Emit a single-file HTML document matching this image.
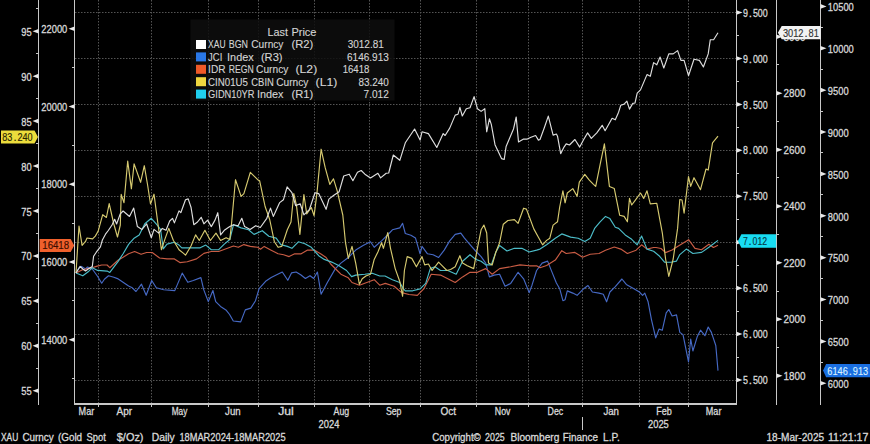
<!DOCTYPE html>
<html><head><meta charset="utf-8"><style>html,body{margin:0;padding:0;background:#000;width:870px;height:444px;overflow:hidden}</style></head>
<body><svg width="870" height="444" viewBox="0 0 870 444" style="display:block;font-family:'Liberation Sans', sans-serif">
<rect width="870" height="444" fill="#000"/>
<line x1="98.5" y1="0" x2="98.5" y2="403.5" stroke="#545454" stroke-width="1" stroke-dasharray="1.5 1.5"/><line x1="151.5" y1="0" x2="151.5" y2="403.5" stroke="#545454" stroke-width="1" stroke-dasharray="1.5 1.5"/><line x1="208.5" y1="0" x2="208.5" y2="403.5" stroke="#545454" stroke-width="1" stroke-dasharray="1.5 1.5"/><line x1="258.5" y1="0" x2="258.5" y2="403.5" stroke="#545454" stroke-width="1" stroke-dasharray="1.5 1.5"/><line x1="314.5" y1="0" x2="314.5" y2="403.5" stroke="#545454" stroke-width="1" stroke-dasharray="1.5 1.5"/><line x1="369.5" y1="0" x2="369.5" y2="403.5" stroke="#545454" stroke-width="1" stroke-dasharray="1.5 1.5"/><line x1="420.5" y1="0" x2="420.5" y2="403.5" stroke="#545454" stroke-width="1" stroke-dasharray="1.5 1.5"/><line x1="476.5" y1="0" x2="476.5" y2="403.5" stroke="#545454" stroke-width="1" stroke-dasharray="1.5 1.5"/><line x1="528.5" y1="0" x2="528.5" y2="403.5" stroke="#545454" stroke-width="1" stroke-dasharray="1.5 1.5"/><line x1="582.5" y1="0" x2="582.5" y2="403.5" stroke="#545454" stroke-width="1" stroke-dasharray="1.5 1.5"/><line x1="639.5" y1="0" x2="639.5" y2="403.5" stroke="#545454" stroke-width="1" stroke-dasharray="1.5 1.5"/><line x1="688.5" y1="0" x2="688.5" y2="403.5" stroke="#545454" stroke-width="1" stroke-dasharray="1.5 1.5"/><line x1="75" y1="380.5" x2="736" y2="380.5" stroke="#545454" stroke-width="1" stroke-dasharray="1.5 1.5"/><line x1="75" y1="334.5" x2="736" y2="334.5" stroke="#545454" stroke-width="1" stroke-dasharray="1.5 1.5"/><line x1="75" y1="288.5" x2="736" y2="288.5" stroke="#545454" stroke-width="1" stroke-dasharray="1.5 1.5"/><line x1="75" y1="242.5" x2="736" y2="242.5" stroke="#545454" stroke-width="1" stroke-dasharray="1.5 1.5"/><line x1="75" y1="196.5" x2="736" y2="196.5" stroke="#545454" stroke-width="1" stroke-dasharray="1.5 1.5"/><line x1="75" y1="150.5" x2="736" y2="150.5" stroke="#545454" stroke-width="1" stroke-dasharray="1.5 1.5"/><line x1="75" y1="104.5" x2="736" y2="104.5" stroke="#545454" stroke-width="1" stroke-dasharray="1.5 1.5"/><line x1="75" y1="58.5" x2="736" y2="58.5" stroke="#545454" stroke-width="1" stroke-dasharray="1.5 1.5"/><line x1="75" y1="12.5" x2="736" y2="12.5" stroke="#545454" stroke-width="1" stroke-dasharray="1.5 1.5"/>
<g shape-rendering="crispEdges"><line x1="38.5" y1="0" x2="38.5" y2="405" stroke="#c8c8c8" stroke-width="1"/><line x1="74.5" y1="0" x2="74.5" y2="405" stroke="#c8c8c8" stroke-width="1"/><line x1="736.5" y1="0" x2="736.5" y2="405" stroke="#c8c8c8" stroke-width="1"/><line x1="776.5" y1="0" x2="776.5" y2="405" stroke="#c8c8c8" stroke-width="1"/><line x1="820.5" y1="0" x2="820.5" y2="405" stroke="#c8c8c8" stroke-width="1"/><rect x="74" y="403" width="663" height="2" fill="#c8c8c8"/><line x1="98.5" y1="405" x2="98.5" y2="407" stroke="#c8c8c8" stroke-width="1"/><line x1="151.5" y1="405" x2="151.5" y2="407" stroke="#c8c8c8" stroke-width="1"/><line x1="208.5" y1="405" x2="208.5" y2="407" stroke="#c8c8c8" stroke-width="1"/><line x1="258.5" y1="405" x2="258.5" y2="407" stroke="#c8c8c8" stroke-width="1"/><line x1="314.5" y1="405" x2="314.5" y2="407" stroke="#c8c8c8" stroke-width="1"/><line x1="369.5" y1="405" x2="369.5" y2="407" stroke="#c8c8c8" stroke-width="1"/><line x1="420.5" y1="405" x2="420.5" y2="407" stroke="#c8c8c8" stroke-width="1"/><line x1="476.5" y1="405" x2="476.5" y2="407" stroke="#c8c8c8" stroke-width="1"/><line x1="528.5" y1="405" x2="528.5" y2="407" stroke="#c8c8c8" stroke-width="1"/><line x1="582.5" y1="405" x2="582.5" y2="407" stroke="#c8c8c8" stroke-width="1"/><line x1="639.5" y1="405" x2="639.5" y2="407" stroke="#c8c8c8" stroke-width="1"/><line x1="688.5" y1="405" x2="688.5" y2="407" stroke="#c8c8c8" stroke-width="1"/><line x1="582.5" y1="417" x2="582.5" y2="430" stroke="#c8c8c8" stroke-width="1"/><line x1="36.0" y1="368.5" x2="38.5" y2="368.5" stroke="#c8c8c8" stroke-width="1"/><line x1="36.0" y1="323.5" x2="38.5" y2="323.5" stroke="#c8c8c8" stroke-width="1"/><line x1="36.0" y1="278.5" x2="38.5" y2="278.5" stroke="#c8c8c8" stroke-width="1"/><line x1="36.0" y1="233.5" x2="38.5" y2="233.5" stroke="#c8c8c8" stroke-width="1"/><line x1="36.0" y1="188.5" x2="38.5" y2="188.5" stroke="#c8c8c8" stroke-width="1"/><line x1="36.0" y1="143.5" x2="38.5" y2="143.5" stroke="#c8c8c8" stroke-width="1"/><line x1="36.0" y1="98.5" x2="38.5" y2="98.5" stroke="#c8c8c8" stroke-width="1"/><line x1="36.0" y1="53.5" x2="38.5" y2="53.5" stroke="#c8c8c8" stroke-width="1"/><line x1="36.0" y1="8.5" x2="38.5" y2="8.5" stroke="#c8c8c8" stroke-width="1"/><line x1="72.0" y1="378.5" x2="74.5" y2="378.5" stroke="#c8c8c8" stroke-width="1"/><line x1="72.0" y1="300.5" x2="74.5" y2="300.5" stroke="#c8c8c8" stroke-width="1"/><line x1="72.0" y1="223.5" x2="74.5" y2="223.5" stroke="#c8c8c8" stroke-width="1"/><line x1="72.0" y1="145.5" x2="74.5" y2="145.5" stroke="#c8c8c8" stroke-width="1"/><line x1="72.0" y1="67.5" x2="74.5" y2="67.5" stroke="#c8c8c8" stroke-width="1"/><line x1="72.0" y1="-9.5" x2="74.5" y2="-9.5" stroke="#c8c8c8" stroke-width="1"/><line x1="736.5" y1="357.5" x2="739.0" y2="357.5" stroke="#c8c8c8" stroke-width="1"/><line x1="736.5" y1="311.5" x2="739.0" y2="311.5" stroke="#c8c8c8" stroke-width="1"/><line x1="736.5" y1="265.5" x2="739.0" y2="265.5" stroke="#c8c8c8" stroke-width="1"/><line x1="736.5" y1="219.5" x2="739.0" y2="219.5" stroke="#c8c8c8" stroke-width="1"/><line x1="736.5" y1="173.5" x2="739.0" y2="173.5" stroke="#c8c8c8" stroke-width="1"/><line x1="736.5" y1="127.5" x2="739.0" y2="127.5" stroke="#c8c8c8" stroke-width="1"/><line x1="736.5" y1="81.5" x2="739.0" y2="81.5" stroke="#c8c8c8" stroke-width="1"/><line x1="736.5" y1="35.5" x2="739.0" y2="35.5" stroke="#c8c8c8" stroke-width="1"/><line x1="776.5" y1="347.5" x2="779.0" y2="347.5" stroke="#c8c8c8" stroke-width="1"/><line x1="776.5" y1="291.5" x2="779.0" y2="291.5" stroke="#c8c8c8" stroke-width="1"/><line x1="776.5" y1="234.5" x2="779.0" y2="234.5" stroke="#c8c8c8" stroke-width="1"/><line x1="776.5" y1="177.5" x2="779.0" y2="177.5" stroke="#c8c8c8" stroke-width="1"/><line x1="776.5" y1="121.5" x2="779.0" y2="121.5" stroke="#c8c8c8" stroke-width="1"/><line x1="776.5" y1="64.5" x2="779.0" y2="64.5" stroke="#c8c8c8" stroke-width="1"/><line x1="820.5" y1="362.5" x2="823.0" y2="362.5" stroke="#c8c8c8" stroke-width="1"/><line x1="820.5" y1="320.5" x2="823.0" y2="320.5" stroke="#c8c8c8" stroke-width="1"/><line x1="820.5" y1="278.5" x2="823.0" y2="278.5" stroke="#c8c8c8" stroke-width="1"/><line x1="820.5" y1="236.5" x2="823.0" y2="236.5" stroke="#c8c8c8" stroke-width="1"/><line x1="820.5" y1="194.5" x2="823.0" y2="194.5" stroke="#c8c8c8" stroke-width="1"/><line x1="820.5" y1="152.5" x2="823.0" y2="152.5" stroke="#c8c8c8" stroke-width="1"/><line x1="820.5" y1="111.5" x2="823.0" y2="111.5" stroke="#c8c8c8" stroke-width="1"/><line x1="820.5" y1="69.5" x2="823.0" y2="69.5" stroke="#c8c8c8" stroke-width="1"/><line x1="820.5" y1="27.5" x2="823.0" y2="27.5" stroke="#c8c8c8" stroke-width="1"/></g>
<polygon points="38.5,388.50 38.5,393.10 32.5,390.80" fill="#e8e8e8"/><polygon points="38.5,343.55 38.5,348.15 32.5,345.85" fill="#e8e8e8"/><polygon points="38.5,298.60 38.5,303.20 32.5,300.90" fill="#e8e8e8"/><polygon points="38.5,253.65 38.5,258.25 32.5,255.95" fill="#e8e8e8"/><polygon points="38.5,208.70 38.5,213.30 32.5,211.00" fill="#e8e8e8"/><polygon points="38.5,163.75 38.5,168.35 32.5,166.05" fill="#e8e8e8"/><polygon points="38.5,118.80 38.5,123.40 32.5,121.10" fill="#e8e8e8"/><polygon points="38.5,73.85 38.5,78.45 32.5,76.15" fill="#e8e8e8"/><polygon points="38.5,28.90 38.5,33.50 32.5,31.20" fill="#e8e8e8"/><polygon points="74.5,337.45 74.5,342.05 68.5,339.75" fill="#e8e8e8"/><polygon points="74.5,259.70 74.5,264.30 68.5,262.00" fill="#e8e8e8"/><polygon points="74.5,181.95 74.5,186.55 68.5,184.25" fill="#e8e8e8"/><polygon points="74.5,104.20 74.5,108.80 68.5,106.50" fill="#e8e8e8"/><polygon points="74.5,26.45 74.5,31.05 68.5,28.75" fill="#e8e8e8"/><polygon points="736.5,377.70 736.5,382.30 742.5,380.00" fill="#e8e8e8"/><polygon points="736.5,331.77 736.5,336.37 742.5,334.07" fill="#e8e8e8"/><polygon points="736.5,285.84 736.5,290.44 742.5,288.14" fill="#e8e8e8"/><polygon points="736.5,239.91 736.5,244.51 742.5,242.21" fill="#e8e8e8"/><polygon points="736.5,193.98 736.5,198.58 742.5,196.28" fill="#e8e8e8"/><polygon points="736.5,148.05 736.5,152.65 742.5,150.35" fill="#e8e8e8"/><polygon points="736.5,102.12 736.5,106.72 742.5,104.42" fill="#e8e8e8"/><polygon points="736.5,56.19 736.5,60.79 742.5,58.49" fill="#e8e8e8"/><polygon points="736.5,10.26 736.5,14.86 742.5,12.56" fill="#e8e8e8"/><polygon points="776.5,373.50 776.5,378.10 782.5,375.80" fill="#e8e8e8"/><polygon points="776.5,316.98 776.5,321.58 782.5,319.28" fill="#e8e8e8"/><polygon points="776.5,260.46 776.5,265.06 782.5,262.76" fill="#e8e8e8"/><polygon points="776.5,203.94 776.5,208.54 782.5,206.24" fill="#e8e8e8"/><polygon points="776.5,147.42 776.5,152.02 782.5,149.72" fill="#e8e8e8"/><polygon points="776.5,90.90 776.5,95.50 782.5,93.20" fill="#e8e8e8"/><polygon points="776.5,34.38 776.5,38.98 782.5,36.68" fill="#e8e8e8"/><polygon points="820.5,381.00 820.5,385.60 826.5,383.30" fill="#e8e8e8"/><polygon points="820.5,339.12 820.5,343.72 826.5,341.42" fill="#e8e8e8"/><polygon points="820.5,297.24 820.5,301.84 826.5,299.54" fill="#e8e8e8"/><polygon points="820.5,255.36 820.5,259.96 826.5,257.66" fill="#e8e8e8"/><polygon points="820.5,213.48 820.5,218.08 826.5,215.78" fill="#e8e8e8"/><polygon points="820.5,171.60 820.5,176.20 826.5,173.90" fill="#e8e8e8"/><polygon points="820.5,129.72 820.5,134.32 826.5,132.02" fill="#e8e8e8"/><polygon points="820.5,87.84 820.5,92.44 826.5,90.14" fill="#e8e8e8"/><polygon points="820.5,45.96 820.5,50.56 826.5,48.26" fill="#e8e8e8"/><polygon points="820.5,4.08 820.5,8.68 826.5,6.38" fill="#e8e8e8"/>
<text x="21.20" y="395.3" font-size="11.6" fill="#d9d9d9" stroke="#d9d9d9" stroke-width="0.3" textLength="10.40" lengthAdjust="spacingAndGlyphs">55</text><text x="21.20" y="350.35" font-size="11.6" fill="#d9d9d9" stroke="#d9d9d9" stroke-width="0.3" textLength="10.40" lengthAdjust="spacingAndGlyphs">60</text><text x="21.20" y="305.4" font-size="11.6" fill="#d9d9d9" stroke="#d9d9d9" stroke-width="0.3" textLength="10.40" lengthAdjust="spacingAndGlyphs">65</text><text x="21.20" y="260.45" font-size="11.6" fill="#d9d9d9" stroke="#d9d9d9" stroke-width="0.3" textLength="10.40" lengthAdjust="spacingAndGlyphs">70</text><text x="21.20" y="215.5" font-size="11.6" fill="#d9d9d9" stroke="#d9d9d9" stroke-width="0.3" textLength="10.40" lengthAdjust="spacingAndGlyphs">75</text><text x="21.20" y="170.55" font-size="11.6" fill="#d9d9d9" stroke="#d9d9d9" stroke-width="0.3" textLength="10.40" lengthAdjust="spacingAndGlyphs">80</text><text x="21.20" y="125.6" font-size="11.6" fill="#d9d9d9" stroke="#d9d9d9" stroke-width="0.3" textLength="10.40" lengthAdjust="spacingAndGlyphs">85</text><text x="21.20" y="80.65" font-size="11.6" fill="#d9d9d9" stroke="#d9d9d9" stroke-width="0.3" textLength="10.40" lengthAdjust="spacingAndGlyphs">90</text><text x="21.20" y="35.7" font-size="11.6" fill="#d9d9d9" stroke="#d9d9d9" stroke-width="0.3" textLength="10.40" lengthAdjust="spacingAndGlyphs">95</text><text x="41.30" y="343.85" font-size="11.6" fill="#d9d9d9" stroke="#d9d9d9" stroke-width="0.3" textLength="26.00" lengthAdjust="spacingAndGlyphs">14000</text><text x="41.30" y="266.1" font-size="11.6" fill="#d9d9d9" stroke="#d9d9d9" stroke-width="0.3" textLength="26.00" lengthAdjust="spacingAndGlyphs">16000</text><text x="41.30" y="188.35" font-size="11.6" fill="#d9d9d9" stroke="#d9d9d9" stroke-width="0.3" textLength="26.00" lengthAdjust="spacingAndGlyphs">18000</text><text x="41.30" y="110.6" font-size="11.6" fill="#d9d9d9" stroke="#d9d9d9" stroke-width="0.3" textLength="26.00" lengthAdjust="spacingAndGlyphs">20000</text><text x="41.30" y="32.85" font-size="11.6" fill="#d9d9d9" stroke="#d9d9d9" stroke-width="0.3" textLength="26.00" lengthAdjust="spacingAndGlyphs">22000</text><text x="743.00" y="384.1" font-size="11.6" fill="#d9d9d9" stroke="#d9d9d9" stroke-width="0.3" textLength="4.95" lengthAdjust="spacingAndGlyphs">5</text><text x="750.42" y="384.1" font-size="11.6" text-anchor="middle" fill="#d9d9d9" stroke="#d9d9d9" stroke-width="0.3">.</text><text x="752.90" y="384.1" font-size="11.6" fill="#d9d9d9" stroke="#d9d9d9" stroke-width="0.3" textLength="14.85" lengthAdjust="spacingAndGlyphs">500</text><text x="743.00" y="338.17" font-size="11.6" fill="#d9d9d9" stroke="#d9d9d9" stroke-width="0.3" textLength="4.95" lengthAdjust="spacingAndGlyphs">6</text><text x="750.42" y="338.17" font-size="11.6" text-anchor="middle" fill="#d9d9d9" stroke="#d9d9d9" stroke-width="0.3">.</text><text x="752.90" y="338.17" font-size="11.6" fill="#d9d9d9" stroke="#d9d9d9" stroke-width="0.3" textLength="14.85" lengthAdjust="spacingAndGlyphs">000</text><text x="743.00" y="292.24" font-size="11.6" fill="#d9d9d9" stroke="#d9d9d9" stroke-width="0.3" textLength="4.95" lengthAdjust="spacingAndGlyphs">6</text><text x="750.42" y="292.24" font-size="11.6" text-anchor="middle" fill="#d9d9d9" stroke="#d9d9d9" stroke-width="0.3">.</text><text x="752.90" y="292.24" font-size="11.6" fill="#d9d9d9" stroke="#d9d9d9" stroke-width="0.3" textLength="14.85" lengthAdjust="spacingAndGlyphs">500</text><text x="743.00" y="200.38" font-size="11.6" fill="#d9d9d9" stroke="#d9d9d9" stroke-width="0.3" textLength="4.95" lengthAdjust="spacingAndGlyphs">7</text><text x="750.42" y="200.38" font-size="11.6" text-anchor="middle" fill="#d9d9d9" stroke="#d9d9d9" stroke-width="0.3">.</text><text x="752.90" y="200.38" font-size="11.6" fill="#d9d9d9" stroke="#d9d9d9" stroke-width="0.3" textLength="14.85" lengthAdjust="spacingAndGlyphs">500</text><text x="743.00" y="154.45" font-size="11.6" fill="#d9d9d9" stroke="#d9d9d9" stroke-width="0.3" textLength="4.95" lengthAdjust="spacingAndGlyphs">8</text><text x="750.42" y="154.45" font-size="11.6" text-anchor="middle" fill="#d9d9d9" stroke="#d9d9d9" stroke-width="0.3">.</text><text x="752.90" y="154.45" font-size="11.6" fill="#d9d9d9" stroke="#d9d9d9" stroke-width="0.3" textLength="14.85" lengthAdjust="spacingAndGlyphs">000</text><text x="743.00" y="108.52" font-size="11.6" fill="#d9d9d9" stroke="#d9d9d9" stroke-width="0.3" textLength="4.95" lengthAdjust="spacingAndGlyphs">8</text><text x="750.42" y="108.52" font-size="11.6" text-anchor="middle" fill="#d9d9d9" stroke="#d9d9d9" stroke-width="0.3">.</text><text x="752.90" y="108.52" font-size="11.6" fill="#d9d9d9" stroke="#d9d9d9" stroke-width="0.3" textLength="14.85" lengthAdjust="spacingAndGlyphs">500</text><text x="743.00" y="62.59" font-size="11.6" fill="#d9d9d9" stroke="#d9d9d9" stroke-width="0.3" textLength="4.95" lengthAdjust="spacingAndGlyphs">9</text><text x="750.42" y="62.59" font-size="11.6" text-anchor="middle" fill="#d9d9d9" stroke="#d9d9d9" stroke-width="0.3">.</text><text x="752.90" y="62.59" font-size="11.6" fill="#d9d9d9" stroke="#d9d9d9" stroke-width="0.3" textLength="14.85" lengthAdjust="spacingAndGlyphs">000</text><text x="743.00" y="16.66" font-size="11.6" fill="#d9d9d9" stroke="#d9d9d9" stroke-width="0.3" textLength="4.95" lengthAdjust="spacingAndGlyphs">9</text><text x="750.42" y="16.66" font-size="11.6" text-anchor="middle" fill="#d9d9d9" stroke="#d9d9d9" stroke-width="0.3">.</text><text x="752.90" y="16.66" font-size="11.6" fill="#d9d9d9" stroke="#d9d9d9" stroke-width="0.3" textLength="14.85" lengthAdjust="spacingAndGlyphs">500</text><text x="783.50" y="379.9" font-size="11.6" fill="#d9d9d9" stroke="#d9d9d9" stroke-width="0.3" textLength="22.00" lengthAdjust="spacingAndGlyphs">1800</text><text x="783.50" y="323.38" font-size="11.6" fill="#d9d9d9" stroke="#d9d9d9" stroke-width="0.3" textLength="22.00" lengthAdjust="spacingAndGlyphs">2000</text><text x="783.50" y="266.86" font-size="11.6" fill="#d9d9d9" stroke="#d9d9d9" stroke-width="0.3" textLength="22.00" lengthAdjust="spacingAndGlyphs">2200</text><text x="783.50" y="210.34" font-size="11.6" fill="#d9d9d9" stroke="#d9d9d9" stroke-width="0.3" textLength="22.00" lengthAdjust="spacingAndGlyphs">2400</text><text x="783.50" y="153.82" font-size="11.6" fill="#d9d9d9" stroke="#d9d9d9" stroke-width="0.3" textLength="22.00" lengthAdjust="spacingAndGlyphs">2600</text><text x="783.50" y="97.3" font-size="11.6" fill="#d9d9d9" stroke="#d9d9d9" stroke-width="0.3" textLength="22.00" lengthAdjust="spacingAndGlyphs">2800</text><text x="783.50" y="40.78" font-size="11.6" fill="#d9d9d9" stroke="#d9d9d9" stroke-width="0.3" textLength="22.00" lengthAdjust="spacingAndGlyphs">3000</text><text x="827.80" y="388.1" font-size="11.6" fill="#d9d9d9" stroke="#d9d9d9" stroke-width="0.3" textLength="20.80" lengthAdjust="spacingAndGlyphs">6000</text><text x="827.80" y="346.22" font-size="11.6" fill="#d9d9d9" stroke="#d9d9d9" stroke-width="0.3" textLength="20.80" lengthAdjust="spacingAndGlyphs">6500</text><text x="827.80" y="304.34" font-size="11.6" fill="#d9d9d9" stroke="#d9d9d9" stroke-width="0.3" textLength="20.80" lengthAdjust="spacingAndGlyphs">7000</text><text x="827.80" y="262.46" font-size="11.6" fill="#d9d9d9" stroke="#d9d9d9" stroke-width="0.3" textLength="20.80" lengthAdjust="spacingAndGlyphs">7500</text><text x="827.80" y="220.58" font-size="11.6" fill="#d9d9d9" stroke="#d9d9d9" stroke-width="0.3" textLength="20.80" lengthAdjust="spacingAndGlyphs">8000</text><text x="827.80" y="178.7" font-size="11.6" fill="#d9d9d9" stroke="#d9d9d9" stroke-width="0.3" textLength="20.80" lengthAdjust="spacingAndGlyphs">8500</text><text x="827.80" y="136.82" font-size="11.6" fill="#d9d9d9" stroke="#d9d9d9" stroke-width="0.3" textLength="20.80" lengthAdjust="spacingAndGlyphs">9000</text><text x="827.80" y="94.94" font-size="11.6" fill="#d9d9d9" stroke="#d9d9d9" stroke-width="0.3" textLength="20.80" lengthAdjust="spacingAndGlyphs">9500</text><text x="827.80" y="53.06" font-size="11.6" fill="#d9d9d9" stroke="#d9d9d9" stroke-width="0.3" textLength="26.00" lengthAdjust="spacingAndGlyphs">10000</text><text x="827.80" y="11.18" font-size="11.6" fill="#d9d9d9" stroke="#d9d9d9" stroke-width="0.3" textLength="26.00" lengthAdjust="spacingAndGlyphs">10500</text><text x="78.60" y="415.2" font-size="10.2" fill="#d9d9d9" stroke="#d9d9d9" stroke-width="0.3" textLength="15.60" lengthAdjust="spacingAndGlyphs">Mar</text><text x="116.60" y="415.2" font-size="10.2" fill="#d9d9d9" stroke="#d9d9d9" stroke-width="0.3" textLength="15.60" lengthAdjust="spacingAndGlyphs">Apr</text><text x="171.70" y="415.2" font-size="10.2" fill="#d9d9d9" stroke="#d9d9d9" stroke-width="0.3" textLength="15.60" lengthAdjust="spacingAndGlyphs">May</text><text x="225.10" y="415.2" font-size="10.2" fill="#d9d9d9" stroke="#d9d9d9" stroke-width="0.3" textLength="15.60" lengthAdjust="spacingAndGlyphs">Jun</text><text x="278.20" y="415.2" font-size="10.2" fill="#d9d9d9" stroke="#d9d9d9" stroke-width="0.3" textLength="15.60" lengthAdjust="spacingAndGlyphs">Jul</text><text x="333.60" y="415.2" font-size="10.2" fill="#d9d9d9" stroke="#d9d9d9" stroke-width="0.3" textLength="15.60" lengthAdjust="spacingAndGlyphs">Aug</text><text x="385.90" y="415.2" font-size="10.2" fill="#d9d9d9" stroke="#d9d9d9" stroke-width="0.3" textLength="15.60" lengthAdjust="spacingAndGlyphs">Sep</text><text x="440.50" y="415.2" font-size="10.2" fill="#d9d9d9" stroke="#d9d9d9" stroke-width="0.3" textLength="15.60" lengthAdjust="spacingAndGlyphs">Oct</text><text x="494.80" y="415.2" font-size="10.2" fill="#d9d9d9" stroke="#d9d9d9" stroke-width="0.3" textLength="15.60" lengthAdjust="spacingAndGlyphs">Nov</text><text x="547.60" y="415.2" font-size="10.2" fill="#d9d9d9" stroke="#d9d9d9" stroke-width="0.3" textLength="15.60" lengthAdjust="spacingAndGlyphs">Dec</text><text x="603.40" y="415.2" font-size="10.2" fill="#d9d9d9" stroke="#d9d9d9" stroke-width="0.3" textLength="15.60" lengthAdjust="spacingAndGlyphs">Jan</text><text x="656.20" y="415.2" font-size="10.2" fill="#d9d9d9" stroke="#d9d9d9" stroke-width="0.3" textLength="15.60" lengthAdjust="spacingAndGlyphs">Feb</text><text x="705.80" y="415.2" font-size="10.2" fill="#d9d9d9" stroke="#d9d9d9" stroke-width="0.3" textLength="15.60" lengthAdjust="spacingAndGlyphs">Mar</text><text x="318.60" y="427.8" font-size="10.2" fill="#d9d9d9" stroke="#d9d9d9" stroke-width="0.3" textLength="20.80" lengthAdjust="spacingAndGlyphs">2024</text><text x="648.00" y="427.8" font-size="10.2" fill="#d9d9d9" stroke="#d9d9d9" stroke-width="0.3" textLength="20.80" lengthAdjust="spacingAndGlyphs">2025</text><text x="1.00" y="441.2" font-size="10.2" fill="#d9d9d9" stroke="#d9d9d9" stroke-width="0.3" textLength="17.30" lengthAdjust="spacingAndGlyphs">XAU</text><text x="22.40" y="441.2" font-size="10.2" fill="#d9d9d9" stroke="#d9d9d9" stroke-width="0.3" textLength="31.40" lengthAdjust="spacingAndGlyphs">Curncy</text><text x="57.90" y="441.2" font-size="10.2" fill="#d9d9d9" stroke="#d9d9d9" stroke-width="0.3" textLength="24.20" lengthAdjust="spacingAndGlyphs">(Gold</text><text x="86.50" y="441.2" font-size="10.2" fill="#d9d9d9" stroke="#d9d9d9" stroke-width="0.3" textLength="19.40" lengthAdjust="spacingAndGlyphs">Spot</text><text x="116.80" y="441.2" font-size="10.2" fill="#d9d9d9" stroke="#d9d9d9" stroke-width="0.3" textLength="26.70" lengthAdjust="spacingAndGlyphs">$/Oz)</text><text x="151.70" y="441.2" font-size="10.2" fill="#d9d9d9" stroke="#d9d9d9" stroke-width="0.3" textLength="23.00" lengthAdjust="spacingAndGlyphs">Daily</text><text x="179.40" y="441.2" font-size="10.2" fill="#d9d9d9" stroke="#d9d9d9" stroke-width="0.3" textLength="106.20" lengthAdjust="spacingAndGlyphs">18MAR2024-18MAR2025</text><text x="432.20" y="441.2" font-size="10.2" fill="#d9d9d9" stroke="#d9d9d9" stroke-width="0.3" textLength="48.50" lengthAdjust="spacingAndGlyphs">Copyright©</text><text x="485.10" y="441.2" font-size="10.2" fill="#d9d9d9" stroke="#d9d9d9" stroke-width="0.3" textLength="19.60" lengthAdjust="spacingAndGlyphs">2025</text><text x="510.40" y="441.2" font-size="10.2" fill="#d9d9d9" stroke="#d9d9d9" stroke-width="0.3" textLength="48.90" lengthAdjust="spacingAndGlyphs">Bloomberg</text><text x="562.80" y="441.2" font-size="10.2" fill="#d9d9d9" stroke="#d9d9d9" stroke-width="0.3" textLength="35.30" lengthAdjust="spacingAndGlyphs">Finance</text><text x="603.00" y="441.2" font-size="10.2" fill="#d9d9d9" stroke="#d9d9d9" stroke-width="0.3" textLength="16.70" lengthAdjust="spacingAndGlyphs">L.P.</text><text x="766.50" y="441.2" font-size="10.2" fill="#d9d9d9" stroke="#d9d9d9" stroke-width="0.3" textLength="57.60" lengthAdjust="spacingAndGlyphs">18-Mar-2025</text><text x="827.90" y="441.2" font-size="10.2" fill="#d9d9d9" stroke="#d9d9d9" stroke-width="0.3" textLength="40.50" lengthAdjust="spacingAndGlyphs">11:21:17</text>
<polyline points="76.0,273.0 79.0,268.0 81.5,266.4 85.5,269.0 87.5,267.0 92.3,269.0 97.7,276.5 101.7,283.2 104.4,279.2 108.5,275.8 113.9,277.2 117.5,278.6 128.6,286.0 132.3,287.8 136.0,291.5 141.5,284.2 146.2,295.2 151.7,280.5 156.3,287.8 163.7,289.7 174.8,290.6 182.2,273.1 187.8,282.3 193.3,280.5 200.9,277.6 203.7,289.6 208.3,301.6 212.9,290.5 215.7,301.6 218.5,304.4 221.3,307.1 225.9,309.9 229.6,314.5 233.3,321.0 240.7,321.9 245.3,309.9 250.8,308.1 255.5,300.7 259.1,288.7 265.6,281.3 271.2,277.6 276.7,274.8 282.3,272.0 287.8,280.3 291.5,272.9 296.1,272.0 300.7,274.8 305.4,278.5 310.0,275.7 313.7,278.5 317.4,272.0 321.1,294.2 327.5,282.2 335.4,268.6 340.9,263.1 348.3,257.5 355.7,250.1 363.1,245.5 370.5,241.8 374.2,247.3 381.6,240.9 389.0,233.5 392.4,229.8 399.8,227.9 402.6,223.3 405.3,233.5 410.9,235.3 415.5,238.1 420.1,253.8 422.0,246.4 427.5,253.8 433.1,254.7 438.6,257.5 444.2,250.1 449.7,240.9 455.2,234.4 460.8,233.1 464.5,238.1 470.0,244.6 475.6,251.0 481.1,256.6 485.7,263.1 489.4,276.9 494.1,275.1 499.6,274.2 505.1,286.2 510.7,283.4 518.1,272.3 523.6,278.8 529.2,292.6 532.0,285.2 536.6,270.5 542.1,263.1 547.6,261.1 552.0,272.1 556.4,283.0 559.7,288.7 562.9,300.7 565.1,299.7 567.3,290.9 572.8,293.1 577.1,295.3 583.7,288.7 588.0,285.5 592.4,292.0 599.0,293.1 603.3,294.2 606.6,301.8 609.9,292.0 615.3,286.6 621.9,279.0 626.3,284.4 633.9,288.7 639.4,292.0 642.6,295.3 644.8,293.1 648.1,301.8 651.4,319.3 655.7,337.9 659.0,329.1 662.3,330.2 666.2,312.8 668.8,309.5 672.1,316.0 676.5,314.9 679.8,332.4 683.0,334.6 688.5,361.9 690.7,339.0 692.9,351.0 697.2,336.8 700.5,330.2 704.9,335.7 708.2,327.0 711.4,332.4 715.8,345.5 718.0,370.6" fill="none" stroke="#4669c4" stroke-width="1.15" stroke-linejoin="round"/>
<polyline points="76.0,273.0 82.0,270.0 88.0,268.5 92.3,267.7 96.3,266.4 101.7,265.0 107.1,265.0 109.8,267.7 118.0,260.3 123.1,257.3 128.6,253.7 134.6,251.5 141.1,254.3 146.6,252.5 152.2,252.5 159.6,258.0 167.0,258.9 174.4,258.9 179.9,262.6 187.3,261.7 196.5,258.9 203.9,253.4 211.3,251.5 218.7,251.5 226.1,248.8 233.5,246.0 238.3,247.3 243.9,244.6 250.3,246.4 257.7,247.3 260.5,249.2 264.2,246.4 270.7,250.1 278.1,253.8 283.6,254.7 289.1,256.6 294.7,253.8 301.2,253.8 307.6,250.1 314.1,250.1 320.6,253.8 326.1,257.5 330.7,264.0 337.2,270.5 340.9,274.2 348.3,277.8 352.0,282.5 359.4,285.2 366.8,282.5 374.2,279.7 379.7,285.2 385.3,283.4 394.2,286.2 401.6,292.6 409.0,294.5 417.3,295.4 423.8,288.9 431.2,274.2 440.5,275.1 447.8,278.8 455.2,282.5 462.6,276.9 470.0,272.3 477.4,272.3 485.7,268.6 492.2,274.2 499.6,268.6 510.7,266.8 520.0,264.9 529.2,265.8 536.6,265.8 540.0,267.7 546.6,265.5 555.3,260.1 561.8,250.7 566.2,253.5 574.9,252.4 582.6,257.2 590.2,254.2 599.0,253.5 605.5,250.2 614.3,247.0 620.8,249.1 627.4,253.5 636.1,250.2 641.6,244.8 647.0,249.1 653.6,247.5 656.0,247.5 661.0,248.5 665.6,252.6 672.0,250.0 680.0,245.0 688.6,239.7 695.0,248.4 701.5,249.8 708.9,244.3 713.4,247.5 718.0,245.2" fill="none" stroke="#c85c44" stroke-width="1.15" stroke-linejoin="round"/>
<polyline points="76.0,273.0 82.8,275.8 88.2,271.8 92.3,267.7 97.7,270.4 107.1,271.1 109.8,272.4 118.0,261.6 123.1,253.7 128.6,244.4 133.7,238.6 139.2,234.9 144.8,223.8 151.3,218.3 157.7,225.7 160.5,229.4 163.3,248.8 167.0,244.1 174.4,242.3 179.0,245.1 181.8,247.8 189.2,247.8 200.2,247.8 205.8,245.1 211.3,249.7 218.7,249.7 224.3,244.1 229.8,239.5 233.5,224.7 241.1,227.9 248.5,229.8 254.0,234.4 262.3,230.7 268.8,236.3 276.2,238.1 280.8,244.6 287.3,246.4 291.9,248.3 298.4,241.8 304.9,243.7 311.3,247.3 318.7,255.7 324.3,259.4 331.7,262.1 339.1,265.8 346.5,270.5 351.6,276.6 355.7,275.1 364.9,274.2 372.3,273.2 379.7,276.0 385.0,276.0 392.4,279.7 399.8,282.5 403.5,288.9 405.3,290.8 412.7,290.8 420.1,288.9 425.7,283.4 430.3,268.6 434.9,266.8 440.5,270.5 447.8,270.5 456.2,274.2 462.6,261.2 470.0,254.7 475.6,259.4 481.1,261.2 485.7,264.9 491.3,264.9 495.9,252.0 499.6,245.5 507.0,251.0 514.4,248.3 521.8,248.3 529.2,252.0 536.6,250.1 540.0,249.1 546.6,244.8 555.3,238.2 561.8,233.9 570.6,237.1 578.2,238.2 584.8,241.5 590.2,238.2 594.6,228.4 600.1,221.8 605.5,216.4 609.9,218.6 615.3,227.3 618.6,228.4 625.2,234.9 631.7,239.3 637.2,244.8 641.6,236.0 647.0,249.1 653.6,251.3 659.0,255.7 664.5,262.2 671.0,262.2 676.5,261.1 679.8,254.6 686.3,249.1 692.9,253.5 701.6,252.4 709.3,247.0 718.0,240.4" fill="none" stroke="#4cbcc8" stroke-width="1.15" stroke-linejoin="round"/>
<polyline points="76.0,273.0 78.1,240.0 79.0,226.0 82.1,245.4 85.5,241.4 87.0,238.0 92.6,238.9 95.3,236.1 98.1,231.3 102.7,214.7 106.4,217.5 109.2,203.6 113.8,224.0 117.5,237.0 120.3,225.0 121.2,194.4 124.0,202.7 127.7,161.1 131.4,188.8 134.1,163.9 140.6,182.3 144.3,165.7 147.6,185.0 150.5,204.0 154.0,194.2 157.7,222.0 161.4,249.7 165.1,238.6 168.8,228.4 173.4,240.5 179.0,249.7 183.6,253.4 185.5,255.2 191.0,246.0 195.6,234.9 199.3,240.5 204.9,230.3 210.4,240.5 216.0,233.1 220.6,240.5 226.1,237.7 229.8,239.5 231.7,222.0 235.5,179.7 241.1,196.4 243.9,193.6 250.3,172.3 257.7,179.7 259.6,180.7 265.1,206.5 269.7,219.5 274.4,241.8 278.1,247.3 281.8,246.4 287.3,229.8 291.0,222.0 293.8,193.6 296.5,205.6 299.9,234.4 303.9,194.5 306.7,213.9 311.3,207.5 314.1,215.8 316.9,193.6 321.1,149.2 325.2,167.7 329.8,184.4 333.5,178.8 337.2,190.8 342.8,215.0 345.5,242.7 348.3,258.4 352.0,246.4 355.7,263.1 359.4,284.3 362.2,278.8 365.9,276.0 370.5,274.2 374.2,259.4 377.9,252.0 381.6,242.7 383.4,248.3 387.8,232.6 390.5,248.3 395.2,268.6 399.8,281.5 402.6,296.3 404.4,270.5 407.2,256.6 411.8,258.4 416.4,266.8 422.0,256.6 424.7,264.9 428.4,264.0 432.1,270.5 438.6,262.1 442.3,265.8 446.9,270.5 450.6,269.5 455.2,266.8 459.9,255.7 462.6,263.1 467.3,265.8 473.7,268.6 477.4,248.3 481.1,229.8 483.9,225.0 486.7,233.0 488.5,263.1 492.2,264.9 495.9,252.0 499.6,242.7 503.3,224.2 507.9,220.5 514.4,219.6 518.1,223.3 523.6,208.2 526.4,209.1 529.2,216.5 533.8,228.9 538.4,237.2 542.6,244.8 546.6,240.4 549.8,238.2 553.1,225.1 557.5,221.8 559.7,207.0 562.9,190.8 565.1,202.8 567.3,193.0 572.8,188.6 577.1,196.3 579.3,182.1 584.8,174.4 589.1,179.9 593.5,184.3 595.7,186.4 600.1,164.6 604.4,143.9 609.4,186.4 614.3,188.6 619.7,215.3 624.1,216.4 627.4,221.8 629.5,198.4 631.7,205.0 635.0,200.6 640.5,193.0 643.7,198.4 647.0,190.8 650.3,203.9 656.8,203.3 662.3,232.8 665.6,259.0 668.8,276.4 673.2,259.0 677.6,228.4 679.8,199.5 682.0,200.0 684.1,213.1 688.5,176.6 690.7,186.4 694.0,177.7 700.5,189.7 706.0,169.0 708.2,170.1 712.5,142.8 718.0,136.2" fill="none" stroke="#d6ca70" stroke-width="1.15" stroke-linejoin="round"/>
<polyline points="76.0,273.0 80.1,266.4 82.8,269.0 85.5,271.0 88.2,269.0 92.3,266.4 93.6,256.2 96.3,252.2 100.4,246.8 102.4,240.0 105.5,234.2 108.3,230.5 112.0,225.0 114.7,219.3 116.6,224.0 120.3,213.8 123.1,211.0 129.5,216.5 133.7,208.1 137.4,226.6 142.0,229.4 146.6,223.8 151.3,237.7 154.0,229.4 158.7,233.1 162.3,228.4 166.0,230.3 169.7,221.0 172.5,218.3 174.4,222.9 179.0,210.9 180.8,212.7 185.5,199.8 188.2,198.9 191.0,207.2 193.8,224.7 197.5,222.0 201.2,217.3 203.9,223.8 207.6,220.1 211.3,226.6 215.0,220.1 217.8,212.7 220.6,234.9 224.3,230.3 229.8,226.6 233.5,224.7 238.1,225.7 241.8,218.3 244.6,226.6 250.1,229.4 255.7,225.7 260.3,227.5 266.8,218.3 270.5,208.1 273.3,216.4 279.7,202.6 283.4,199.8 287.1,186.8 291.9,192.7 295.6,205.6 300.2,203.8 303.9,214.9 309.5,209.3 315.0,192.7 318.7,193.6 326.1,209.3 328.9,199.1 333.5,195.5 339.1,191.8 343.7,176.0 349.2,174.2 352.9,180.7 357.5,172.3 361.2,170.5 364.9,174.2 370.5,177.9 377.9,173.3 380.6,177.9 386.2,173.3 388.7,173.0 393.3,155.0 399.8,160.3 405.3,142.8 410.9,134.5 414.6,129.0 420.1,140.1 422.0,131.8 428.4,133.6 436.8,147.5 443.2,133.6 445.1,135.5 449.7,128.1 455.2,115.1 458.0,114.2 459.9,107.4 462.3,116.0 466.3,108.7 470.0,107.7 474.1,96.6 477.4,108.7 481.1,111.4 484.8,108.7 486.7,131.8 489.4,118.8 491.3,124.4 495.0,144.7 501.5,158.6 504.2,159.5 506.1,146.5 513.5,129.0 516.2,117.0 518.5,141.9 523.6,139.1 527.3,139.1 531.0,137.3 535.6,135.5 538.4,140.1 540.0,139.5 544.4,127.5 548.3,116.1 553.1,135.1 556.4,134.0 557.5,136.2 560.7,153.7 564.0,147.1 566.2,143.9 569.5,145.0 574.9,139.5 579.7,147.1 583.7,139.5 587.6,132.9 591.3,138.4 596.8,132.9 602.2,125.3 605.1,130.7 612.1,118.3 615.3,119.8 618.6,112.2 620.8,105.2 624.1,104.1 626.9,101.2 629.5,109.1 632.8,103.4 635.0,103.0 637.2,93.2 640.5,89.9 647.0,74.6 650.3,76.3 653.6,62.6 656.8,64.8 660.1,57.1 663.8,68.0 668.8,53.9 673.2,53.9 677.6,50.6 680.9,60.4 684.1,60.4 688.5,75.7 694.0,59.3 699.4,60.4 703.4,67.0 708.2,53.9 710.3,39.7 713.6,39.7 718.0,32.7" fill="none" stroke="#dedede" stroke-width="1.15" stroke-linejoin="round"/>
<rect x="190.5" y="19.5" width="204" height="81" fill="#0e0e0e" fill-opacity="0.85"/><rect x="196" y="40.0" width="10" height="9" fill="#ffffff"/><rect x="196" y="52.4" width="10" height="9" fill="#2a78e8"/><rect x="196" y="64.8" width="10" height="9" fill="#f05a28"/><rect x="196" y="77.2" width="10" height="9" fill="#f0d840"/><rect x="196" y="89.6" width="10" height="9" fill="#20d0f0"/>
<text x="267.50" y="36.0" font-size="11.2" fill="#d4d4d4" stroke="#d4d4d4" stroke-width="0.12" textLength="20.50" lengthAdjust="spacingAndGlyphs">Last</text><text x="291.40" y="36.0" font-size="11.2" fill="#d4d4d4" stroke="#d4d4d4" stroke-width="0.12" textLength="25.10" lengthAdjust="spacingAndGlyphs">Price</text><text x="208.10" y="48.4" font-size="11.2" fill="#d4d4d4" stroke="#d4d4d4" stroke-width="0.12" textLength="17.40" lengthAdjust="spacingAndGlyphs">XAU</text><text x="228.70" y="48.4" font-size="11.2" fill="#d4d4d4" stroke="#d4d4d4" stroke-width="0.12" textLength="19.30" lengthAdjust="spacingAndGlyphs">BGN</text><text x="251.30" y="48.4" font-size="11.2" fill="#d4d4d4" stroke="#d4d4d4" stroke-width="0.12" textLength="32.10" lengthAdjust="spacingAndGlyphs">Curncy</text><text x="291.50" y="48.4" font-size="11.2" fill="#d4d4d4" stroke="#d4d4d4" stroke-width="0.12" textLength="21.70" lengthAdjust="spacingAndGlyphs">(R2)</text><text x="347.70" y="48.4" font-size="11.2" fill="#d4d4d4" stroke="#d4d4d4" stroke-width="0.12" textLength="36.10" lengthAdjust="spacingAndGlyphs">3012.81</text><text x="208.10" y="60.8" font-size="11.2" fill="#d4d4d4" stroke="#d4d4d4" stroke-width="0.12" textLength="14.20" lengthAdjust="spacingAndGlyphs">JCI</text><text x="227.10" y="60.8" font-size="11.2" fill="#d4d4d4" stroke="#d4d4d4" stroke-width="0.12" textLength="26.60" lengthAdjust="spacingAndGlyphs">Index</text><text x="260.90" y="60.8" font-size="11.2" fill="#d4d4d4" stroke="#d4d4d4" stroke-width="0.12" textLength="21.70" lengthAdjust="spacingAndGlyphs">(R3)</text><text x="347.00" y="60.8" font-size="11.2" fill="#d4d4d4" stroke="#d4d4d4" stroke-width="0.12" textLength="41.80" lengthAdjust="spacingAndGlyphs">6146.913</text><text x="208.10" y="73.2" font-size="11.2" fill="#d4d4d4" stroke="#d4d4d4" stroke-width="0.12" textLength="17.40" lengthAdjust="spacingAndGlyphs">IDR</text><text x="228.70" y="73.2" font-size="11.2" fill="#d4d4d4" stroke="#d4d4d4" stroke-width="0.12" textLength="25.00" lengthAdjust="spacingAndGlyphs">REGN</text><text x="256.10" y="73.2" font-size="11.2" fill="#d4d4d4" stroke="#d4d4d4" stroke-width="0.12" textLength="32.20" lengthAdjust="spacingAndGlyphs">Curncy</text><text x="295.50" y="73.2" font-size="11.2" fill="#d4d4d4" stroke="#d4d4d4" stroke-width="0.12" textLength="21.70" lengthAdjust="spacingAndGlyphs">(L2)</text><text x="342.70" y="73.2" font-size="11.2" fill="#d4d4d4" stroke="#d4d4d4" stroke-width="0.12" textLength="26.70" lengthAdjust="spacingAndGlyphs">16418</text><text x="208.10" y="85.6" font-size="11.2" fill="#d4d4d4" stroke="#d4d4d4" stroke-width="0.12" textLength="39.90" lengthAdjust="spacingAndGlyphs">CIN01U5</text><text x="251.30" y="85.6" font-size="11.2" fill="#d4d4d4" stroke="#d4d4d4" stroke-width="0.12" textLength="22.50" lengthAdjust="spacingAndGlyphs">CBIN</text><text x="276.20" y="85.6" font-size="11.2" fill="#d4d4d4" stroke="#d4d4d4" stroke-width="0.12" textLength="32.20" lengthAdjust="spacingAndGlyphs">Curncy</text><text x="315.60" y="85.6" font-size="11.2" fill="#d4d4d4" stroke="#d4d4d4" stroke-width="0.12" textLength="21.80" lengthAdjust="spacingAndGlyphs">(L1)</text><text x="358.50" y="85.6" font-size="11.2" fill="#d4d4d4" stroke="#d4d4d4" stroke-width="0.12" textLength="30.30" lengthAdjust="spacingAndGlyphs">83.240</text><text x="208.10" y="98.0" font-size="11.2" fill="#d4d4d4" stroke="#d4d4d4" stroke-width="0.12" textLength="46.40" lengthAdjust="spacingAndGlyphs">GIDN10YR</text><text x="256.90" y="98.0" font-size="11.2" fill="#d4d4d4" stroke="#d4d4d4" stroke-width="0.12" textLength="26.50" lengthAdjust="spacingAndGlyphs">Index</text><text x="291.50" y="98.0" font-size="11.2" fill="#d4d4d4" stroke="#d4d4d4" stroke-width="0.12" textLength="21.70" lengthAdjust="spacingAndGlyphs">(R1)</text><text x="363.60" y="98.0" font-size="11.2" fill="#d4d4d4" stroke="#d4d4d4" stroke-width="0.12" textLength="25.20" lengthAdjust="spacingAndGlyphs">7.012</text>
<polygon points="1,130.4 34.5,130.4 38,137.0 34.5,143.6 1,143.6" fill="#ecdc3c"/><text x="2.30" y="140.9" font-size="11.2" fill="#2a2600" stroke="#2a2600" stroke-width="0.15" textLength="10.10" lengthAdjust="spacingAndGlyphs">83</text><text x="14.93" y="140.9" font-size="11.2" text-anchor="middle" fill="#2a2600" stroke="#2a2600" stroke-width="0.15">.</text><text x="17.45" y="140.9" font-size="11.2" fill="#2a2600" stroke="#2a2600" stroke-width="0.15" textLength="15.15" lengthAdjust="spacingAndGlyphs">240</text><polygon points="39.7,238.9 70.7,238.9 74.2,245.45 70.7,252 39.7,252" fill="#f0602c"/><text x="42.30" y="249.35" font-size="11.2" fill="#3a0c00" stroke="#3a0c00" stroke-width="0.15" textLength="26.80" lengthAdjust="spacingAndGlyphs">16418</text><polygon points="737.9,241.05 741.4,234.3 776.1,234.3 776.1,247.8 741.4,247.8" fill="#18dcf2"/><text x="742.90" y="244.95" font-size="11.2" fill="#063845" stroke="#063845" stroke-width="0.15" textLength="4.84" lengthAdjust="spacingAndGlyphs">7</text><text x="750.16" y="244.95" font-size="11.2" text-anchor="middle" fill="#063845" stroke="#063845" stroke-width="0.15">.</text><text x="752.58" y="244.95" font-size="11.2" fill="#063845" stroke="#063845" stroke-width="0.15" textLength="14.52" lengthAdjust="spacingAndGlyphs">012</text><polygon points="777.9,32.7 781.7,26.1 820.7,26.1 820.7,39.3 781.7,39.3" fill="#f2f2f2"/><text x="782.90" y="36.6" font-size="11.2" fill="#303030" stroke="#303030" stroke-width="0.15" textLength="20.51" lengthAdjust="spacingAndGlyphs">3012</text><text x="805.98" y="36.6" font-size="11.2" text-anchor="middle" fill="#303030" stroke="#303030" stroke-width="0.15">.</text><text x="808.54" y="36.6" font-size="11.2" fill="#303030" stroke="#303030" stroke-width="0.15" textLength="10.26" lengthAdjust="spacingAndGlyphs">81</text><polygon points="823.1,370.6 826.1,363.9 870,363.9 870,377.3 826.1,377.3" fill="#1a6ee0"/><text x="827.30" y="374.5" font-size="11.2" fill="#d8f0ff" stroke="#d8f0ff" stroke-width="0.15" textLength="20.45" lengthAdjust="spacingAndGlyphs">6146</text><text x="850.31" y="374.5" font-size="11.2" text-anchor="middle" fill="#d8f0ff" stroke="#d8f0ff" stroke-width="0.15">.</text><text x="852.86" y="374.5" font-size="11.2" fill="#d8f0ff" stroke="#d8f0ff" stroke-width="0.15" textLength="15.34" lengthAdjust="spacingAndGlyphs">913</text>
</svg></body></html>
